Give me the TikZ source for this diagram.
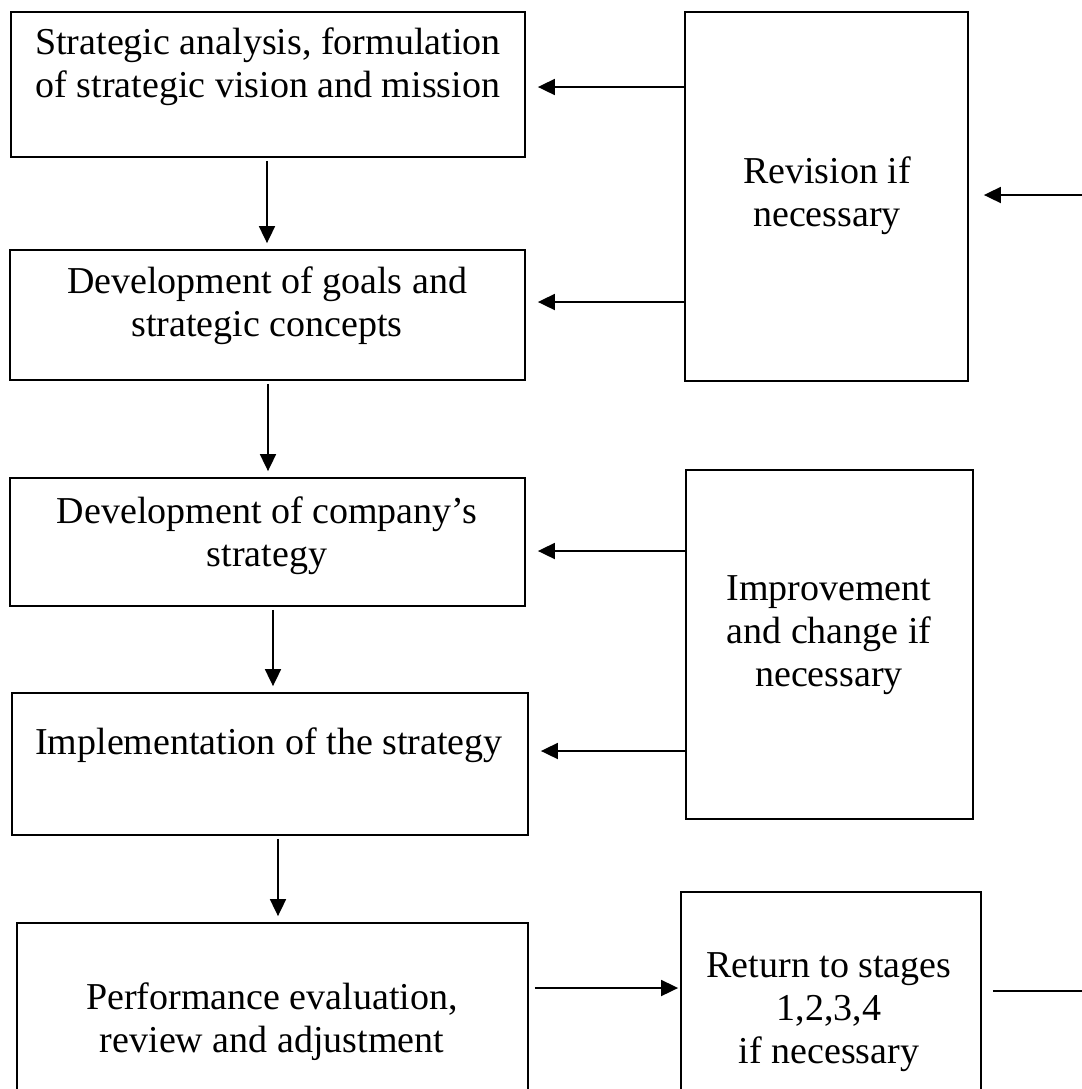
\documentclass[tikz,border=0pt]{standalone}
\usepackage{fontspec}
\setmainfont{Liberation Serif}
\usetikzlibrary{arrows.meta,fit}

\begin{document}
\begin{tikzpicture}[x=0.5pt, y=-0.5pt, line width=0.9pt,
        >={Triangle[length=8.5pt,width=8pt]},
        box/.style={draw, inner sep=0pt},
        txt/.style={align=center, inner sep=0pt, font=\fontsize{19}{21.5}\selectfont}]
        \useasboundingbox (0,0) rectangle (1082,1089);
        \clip (0,0) rectangle (1082,1089);

        \node[box, fit={(11,12) (525,157)}] (analysis) {};
        \node[box, fit={(10,250) (525,380)}] (goals) {};
        \node[box, fit={(10,478) (525,606)}] (strategy) {};
        \node[box, fit={(12,693) (528,835)}] (implement) {};
        \node[box, fit={(17,923) (528,1130)}] (evaluation) {};

        \node[box, fit={(685,12) (968,381)}] (revision) {};
        \node[box, fit={(686,470) (973,819)}] (improve) {};
        \node[box, fit={(681,892) (981,1135)}] (return) {};

        \node[txt] (analysis-txt) at (268, 67) {Strategic analysis, formulation\\of strategic vision and mission};
        \node[txt] (goals-txt) at (267, 306) {Development of goals and\\strategic concepts};
        \node[txt] (strategy-txt) at (267, 536) {Development of company’s\\strategy};
        \node[txt] (implement-txt) at (269, 745) {Implementation of the strategy};
        \node[txt] (evaluation-txt) at (272, 1022) {Performance evaluation,\\review and adjustment};
        \node[txt] (revision-txt) at (827, 196) {Revision if\\necessary};
        \node[txt] (improve-txt) at (829, 635) {Improvement\\and change if\\necessary};
        \node[txt] (return-txt) at (829, 1012) {Return to stages\\1,2,3,4\\if necessary};

        \coordinate (in) at (1082, 195);
        \coordinate (out) at (1082, 991);

        \draw[->, shorten <=1.5pt, shorten >=3pt] (analysis.south -| 267,0) -- (goals.north -| 267,0);
        \draw[->, shorten <=1.5pt, shorten >=3pt] (goals.south -| 268,0) -- (strategy.north -| 268,0);
        \draw[->, shorten <=1.5pt, shorten >=3pt] (strategy.south -| 273,0) -- (implement.north -| 273,0);
        \draw[->, shorten <=1.5pt, shorten >=3pt] (implement.south -| 278,0) -- (evaluation.north -| 278,0);

        \draw[->, shorten >=6pt] (revision.west |- 0,87) -- (analysis.east |- 0,87);
        \draw[->, shorten >=6pt] (revision.west |- 0,302) -- (goals.east |- 0,302);
        \draw[->, shorten >=6pt] (improve.west |- 0,551) -- (strategy.east |- 0,551);
        \draw[->, shorten >=6pt] (improve.west |- 0,751) -- (implement.east |- 0,751);

        \draw[->, shorten >=7.5pt] (in) -- (revision.east |- in);
        \draw[->, shorten <=3pt, shorten >=1pt] (evaluation.east |- 0,988) -- (return.west |- 0,988);
        \draw[shorten <=5.5pt] (return.east |- out) -- (out);
    \end{tikzpicture}
\end{document}
